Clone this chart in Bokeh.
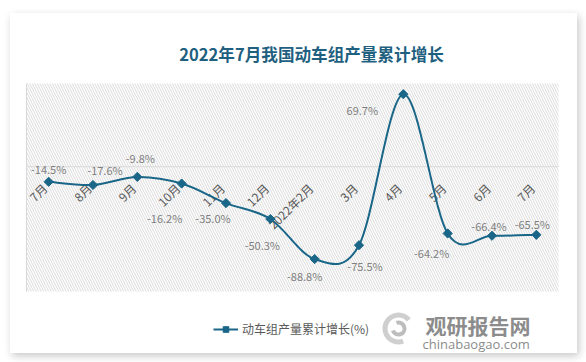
import math
from bokeh.plotting import figure
from bokeh.models import Range1d, Label, Legend, LegendItem, ColumnDataSource
from bokeh.core.properties import value
from bokeh.embed import file_html
from bokeh.resources import INLINE

# ---- data ----
categories = ["7月", "8月", "9月", "10月", "11月", "12月", "2022年2月", "3月", "4月", "5月", "6月", "7月"]
growth = [-14.5, -17.6, -9.8, -16.2, -35.0, -50.3, -88.8, -75.5, 69.7, -64.2, -66.4, -65.5]
value_labels = ["-14.5%", "-17.6%", "-9.8%", "-16.2%", "-35.0%", "-50.3%", "-88.8%", "-75.5%", "69.7%", "-64.2%", "-66.4%", "-65.5%"]
series_name = "动车组产量累计增长(%)"
title_text = "2022年7月我国动车组产量累计增长"
y_min, y_max = -120, 80

# ---- style / layout ----
label_dx = [0, 12, 3, -17, -13, -8, -10, 6, -41, -16, -3, -4]
label_dy = [-13, -15, -19, 34, 15, 26, 17, 21, 16, 20, -10, -11]
LINE = "#1a6688"
CJK = "Noto Sans CJK SC"

W, H = 567, 340
pa_left, pa_right, pa_top, pa_bottom = 16, 548, 70, 278
n = len(categories)
px_per_x = (pa_right - pa_left) / n
px_per_y = (pa_bottom - pa_top) / (y_max - y_min)
x_start = -0.5 - pa_left / px_per_x
y_end = y_max + pa_top / px_per_y

p = figure(width=W, height=H, output_backend="svg", toolbar_location=None,
           x_axis_type=None, y_axis_type=None, min_border=0,
           x_range=Range1d(x_start, n - 0.5 + (W - pa_right) / px_per_x),
           y_range=Range1d(y_min - (H - pa_bottom) / px_per_y, y_end))
p.outline_line_color = None
p.background_fill_color = "white"
p.border_fill_color = "white"
p.grid.visible = False
p.margin = (13, 0, 0, 10)
p.styles = {"box-shadow": "2px 3px 8px rgba(0,0,0,0.22)"}

xs = list(range(n))

# plot area hatch
p.quad(left=[-0.5], right=[n - 0.5], bottom=[y_min], top=[y_max],
       fill_color=None, line_color=None, hatch_pattern="\\",
       hatch_color="#d6d6d6", hatch_scale=5, hatch_weight=0.9)
# axes lines
p.segment(x0=[-0.5], y0=[0], x1=[n - 0.5], y1=[0], line_color="#d9d9d9", line_width=1)
p.segment(x0=[-0.5], y0=[y_min], x1=[-0.5], y1=[y_max], line_color="#d9d9d9", line_width=1)

# category labels (rotated, at zero line)
p.text(x=xs, y=[0] * n, text=categories, angle=math.pi / 4, x_offset=-4, y_offset=19,
       text_align="right", text_baseline="middle", text_font=value(CJK),
       text_font_size="12px", text_color="#595959")

# smoothed line via bezier segments
x0s, y0s, x1s, y1s, cx0s, cy0s, cx1s, cy1s = [], [], [], [], [], [], [], []
for i in range(n - 1):
    a = i - 1 if i > 0 else i
    d = i + 2 if i + 2 < n else i + 1
    x0s.append(xs[i]); y0s.append(growth[i])
    x1s.append(xs[i + 1]); y1s.append(growth[i + 1])
    cx0s.append(xs[i] + (xs[i + 1] - xs[a]) / 6.0)
    cy0s.append(growth[i] + (growth[i + 1] - growth[a]) / 6.0)
    cx1s.append(xs[i + 1] - (xs[d] - xs[i]) / 6.0)
    cy1s.append(growth[i + 1] - (growth[d] - growth[i]) / 6.0)
lr = p.bezier(x0=x0s, y0=y0s, x1=x1s, y1=y1s, cx0=cx0s, cy0=cy0s, cx1=cx1s, cy1=cy1s,
              line_color=LINE, line_width=2)

mr = p.scatter(x=xs, y=growth, marker="square", angle=math.pi / 4, size=6.5,
               fill_color=LINE, line_color=LINE)

# data labels
src = ColumnDataSource(dict(x=xs, y=growth, t=value_labels, dx=label_dx, dy=label_dy))
p.text(x="x", y="y", text="t", x_offset="dx", y_offset="dy", source=src,
       text_align="center", text_baseline="middle", text_font=value(CJK),
       text_font_size="11px", text_color="#7f7f7f")

# title
p.add_layout(Label(x=301, y=H - 40, x_units="screen", y_units="screen", text=title_text,
                   text_align="center", text_baseline="middle", text_font=CJK,
                   text_font_size="16.6px", text_font_style="bold", text_color="#1f5f7f"))

# legend
legend = Legend(items=[LegendItem(label=series_name, renderers=[lr, mr])],
                location=(203, 16), padding=0, margin=0, spacing=0,
                glyph_width=25, glyph_height=14, label_height=14, label_standoff=4,
                label_text_font=CJK, label_text_font_size="12px", label_text_color="#595959",
                border_line_color=None, background_fill_alpha=0)
p.add_layout(legend)

# watermark logo (decorative swirl) + text
lx = x_start + 388 / px_per_x
ly = y_end - 315 / px_per_y
p.annular_wedge(x=[lx], y=[ly], inner_radius=11, outer_radius=16,
                inner_radius_units="screen", outer_radius_units="screen",
                start_angle=math.radians(40), end_angle=math.radians(290),
                fill_color="#cfcfcf", line_color=None)
p.annular_wedge(x=[lx], y=[ly], inner_radius=4, outer_radius=8,
                inner_radius_units="screen", outer_radius_units="screen",
                start_angle=math.radians(200), end_angle=math.radians(470),
                fill_color="#bdbdbd", line_color=None)
p.add_layout(Label(x=415, y=H - 311, x_units="screen", y_units="screen", text="观研报告网",
                   text_align="left", text_baseline="middle", text_font=CJK,
                   text_font_size="21px", text_font_style="bold", text_color="#8c8c8c"))
p.add_layout(Label(x=412, y=H - 330, x_units="screen", y_units="screen", text="chinabaogao.com",
                   text_align="left", text_baseline="middle", text_font="Open Sans",
                   text_font_size="13px", text_color="#8c8c8c"))

open("out.html", "w").write(file_html(p, INLINE))
